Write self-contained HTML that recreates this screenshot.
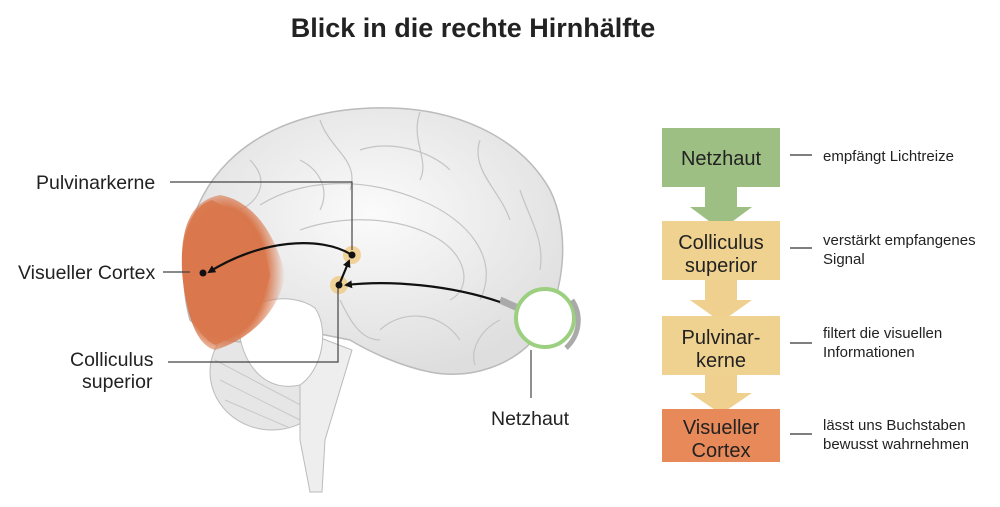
<!DOCTYPE html>
<html><head><meta charset="utf-8"><style>
body{margin:0;background:#fff;}
svg{display:block;font-family:"Liberation Sans",sans-serif;}
</style></head><body>
<svg width="1000" height="507" viewBox="0 0 1000 507">
<defs>
<radialGradient id="bg" cx="0.5" cy="0.4" r="0.6"><stop offset="0" stop-color="#fbfbfb"/><stop offset="1" stop-color="#dedede"/></radialGradient>
<radialGradient id="og" cx="0.4" cy="0.5" r="0.6"><stop offset="0.7" stop-color="#d9774c"/><stop offset="1" stop-color="#d9774c" stop-opacity="0"/></radialGradient>
<marker id="ah" markerWidth="8" markerHeight="8" refX="6" refY="4" orient="auto" markerUnits="userSpaceOnUse"><path d="M0,0 L8,4 L0,8 z" fill="#111"/></marker>
</defs>
<text x="473" y="37" text-anchor="middle" font-size="27" font-weight="bold" fill="#222">Blick in die rechte Hirnhälfte</text>

<!-- cerebellum & brainstem -->
<ellipse cx="272" cy="372" rx="62" ry="58" fill="#e6e6e6" stroke="#bbb"/>
<g stroke="#c8c8c8" fill="none"><path d="M220,380 L300,420"/><path d="M215,360 L310,410"/><path d="M225,400 L290,428"/><path d="M240,340 L330,400"/></g>
<path d="M300,330 L300,440 L310,492 L322,492 L325,440 L352,350 Z" fill="#eee" stroke="#bbb"/>
<!-- cerebrum -->
<path d="M190,320 C176,270 185,205 228,162 C268,122 330,106 392,108 C462,110 522,140 550,190 C570,230 566,292 540,332 C515,366 470,380 430,372 C400,366 370,352 350,340 L300,330 C260,350 215,345 190,320 Z" fill="url(#bg)" stroke="#bbb" stroke-width="1.5"/>
<g fill="none" stroke="#c4c4c4" stroke-width="1.2">
<path d="M260,205 C300,180 360,175 420,200 C470,220 500,260 480,300"/>
<path d="M300,230 C340,215 400,215 440,240 C470,260 470,290 450,300"/>
<path d="M320,120 C330,150 360,160 350,190"/><path d="M420,112 C410,140 430,160 420,180"/>
<path d="M480,140 C470,170 500,190 510,220"/><path d="M250,160 C270,180 260,200 240,210"/>
<path d="M520,190 C530,220 545,240 540,270"/><path d="M380,330 C400,310 440,310 460,340"/>
<path d="M340,300 C350,320 360,340 380,340"/><path d="M360,150 C390,140 430,150 450,170"/>
<path d="M300,160 C320,170 330,190 320,210"/><path d="M500,320 C480,330 470,350 475,365"/>
</g>
<!-- cerebellum white arbor -->
<path d="M238,325 C242,300 290,290 315,308 C330,330 322,370 300,385 C270,392 243,372 238,325 Z" fill="#fff" stroke="#bbb"/>
<!-- orange region -->
<path d="M182,270 C180,220 195,200 220,195 C250,200 275,230 285,275 C280,310 250,340 215,350 C195,345 185,310 182,270 Z" fill="url(#og)"/>
<path d="M182,270 C182,225 195,205 212,200 C240,215 265,240 270,275 C262,310 240,335 215,345 C195,335 184,305 182,270 Z" fill="#d9774c" opacity="0.85"/>
<!-- nuclei -->
<circle cx="352" cy="255" r="9" fill="#f0cc8a" opacity="0.85"/>
<circle cx="339" cy="285" r="9" fill="#f0cc8a" opacity="0.85"/>
<!-- eye -->
<path d="M500,300 L518,308" stroke="#aaa" stroke-width="7"/>
<circle cx="545" cy="318" r="29" fill="#fff" stroke="#9ccf7f" stroke-width="4"/>
<path d="M572,300 C582,315 580,335 566,348" fill="none" stroke="#aaa" stroke-width="5"/>
<!-- label lines -->
<g stroke="#444" stroke-width="1.2" fill="none">
<path d="M170,182 H352 V250"/><path d="M168,362 H338 V288"/><path d="M163,272 H190"/>
<path d="M531,350 V398"/>
</g>
<!-- arrows -->
<g stroke="#111" stroke-width="2.2" fill="none" marker-end="url(#ah)">
<path d="M500,302 C450,285 390,280 346,285"/>
<path d="M352,255 C320,235 260,240 209,272"/>
<path d="M339,285 L349,261"/>
</g>
<circle cx="352" cy="255" r="3.5" fill="#111"/><circle cx="339" cy="285" r="3.5" fill="#111"/><circle cx="203" cy="273" r="3.5" fill="#111"/>
<g font-size="19.5" fill="#222">
<text x="36" y="189">Pulvinarkerne</text>
<text x="18" y="279">Visueller Cortex</text>
<text x="70" y="366">Colliculus</text><text x="82" y="388">superior</text>
<text x="491" y="425">Netzhaut</text>
</g>
<!-- flow -->
<path d="M705,187 H737 V207 H752 L721,230 L690,207 H705 Z" fill="#9dbf83"/>
<path d="M705,280 H737 V300 H752 L721,322 L690,300 H705 Z" fill="#efd08e"/>
<path d="M705,375 H737 V393 H752 L721,414 L690,393 H705 Z" fill="#efd08e"/>
<rect x="662" y="128" width="118" height="59" fill="#9dbf83"/>
<rect x="662" y="221" width="118" height="59" fill="#f0d290"/>
<rect x="662" y="316" width="118" height="59" fill="#f0d290"/>
<rect x="662" y="409" width="118" height="53" fill="#e8895a"/>
<g font-size="20" fill="#222" text-anchor="middle">
<text x="721" y="165">Netzhaut</text>
<text x="721" y="249">Colliculus</text><text x="721" y="272">superior</text>
<text x="721" y="344">Pulvinar-</text><text x="721" y="367">kerne</text>
<text x="721" y="434">Visueller</text><text x="721" y="457">Cortex</text>
</g>
<g stroke="#333" stroke-width="1.2"><path d="M790,155 H812"/><path d="M790,248 H812"/><path d="M790,343 H812"/><path d="M790,434 H812"/></g>
<g font-size="15" fill="#222">
<text x="823" y="161">empfängt Lichtreize</text>
<text x="823" y="245">verstärkt empfangenes</text><text x="823" y="264">Signal</text>
<text x="823" y="338">filtert die visuellen</text><text x="823" y="357">Informationen</text>
<text x="823" y="430">lässt uns Buchstaben</text><text x="823" y="449">bewusst wahrnehmen</text>
</g>
</svg>
</body></html>
